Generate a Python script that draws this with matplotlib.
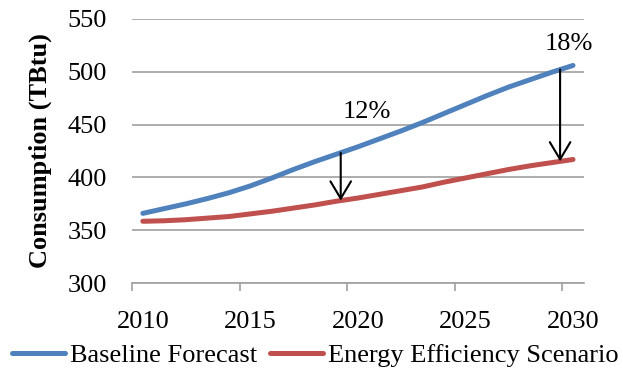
import numpy as np
import matplotlib
matplotlib.use("Agg")
import matplotlib.pyplot as plt

plt.rcParams["font.family"] = ["Liberation Serif", "DejaVu Serif"]

# Consumption projections (TBtu)
years = list(range(2010, 2031))
baseline = [366, 370.5, 375, 380, 385.5, 392, 399.5, 407.5, 415, 422, 429,
            436.5, 444, 452, 460.5, 469, 477.5, 485.5, 492.5, 499.5, 506]
efficiency = [358.5, 359, 360, 361.5, 363, 365.5, 368, 371, 374, 377.5, 380.5,
              384, 387.5, 391, 395.5, 399.5, 403.5, 407.5, 411, 414, 417]

# savings arrows (baseline -> efficiency) and their labels
arrow_years = [2019.2, 2029.4]
savings_labels = ["12%", "18%"]
label_pos = [(2020.4, 462), (2029.8, 526)]

blue = "#4F81BD"
red = "#C0504D"
grid_grey = "#A0A0A0"

fig = plt.figure(figsize=(6.23, 3.72), dpi=100)
ax = fig.add_axes([0.212, 0.239, 0.725, 0.71])

ax.plot(years, baseline, color=blue, lw=3.6, solid_capstyle="round",
        solid_joinstyle="round", label="Baseline Forecast", zorder=3)
ax.plot(years, efficiency, color=red, lw=3.6, solid_capstyle="round",
        solid_joinstyle="round", label="Energy Efficiency Scenario", zorder=3)

for x in arrow_years:
    top = np.interp(x, years, baseline)
    bottom = np.interp(x, years, efficiency)
    ax.annotate("", xy=(x, bottom), xytext=(x, top),
                arrowprops=dict(arrowstyle="->,head_length=0.62,head_width=0.37",
                                color="black", lw=1.5, mutation_scale=20,
                                shrinkA=0, shrinkB=0),
                zorder=4)

for txt, (lx, ly) in zip(savings_labels, label_pos):
    ax.text(lx, ly, txt, fontsize=19, ha="center", va="center")

ax.set_xlim(2009.5, 2030.5)
ax.set_ylim(300, 550)
ax.set_yticks(range(300, 551, 50))
ax.set_xticks(range(2010, 2031, 5))
ax.set_xticks(np.arange(2009.5, 2030, 5), minor=True)
ax.tick_params(axis="x", which="major", length=0, pad=20, labelsize=19)
ax.tick_params(axis="x", which="minor", length=6, width=1.2,
               color=grid_grey, direction="out")
ax.tick_params(axis="y", length=0, pad=18, labelsize=19)

ax.yaxis.grid(True, color=grid_grey, lw=1.2)
ax.set_axisbelow(True)
for side in ["left", "right", "top"]:
    ax.spines[side].set_visible(False)
ax.spines["bottom"].set_color(grid_grey)
ax.spines["bottom"].set_linewidth(1.2)

ax.set_ylabel("Consumption (TBtu)", fontsize=19, fontweight="bold", labelpad=11)

ax.legend(loc="center", bbox_to_anchor=(0.405, -0.273), ncol=2, frameon=False,
          fontsize=19, handlelength=2.0, handletextpad=0.19, columnspacing=0.5,
          borderaxespad=0, borderpad=0)

plt.savefig("out.png", dpi=100)
